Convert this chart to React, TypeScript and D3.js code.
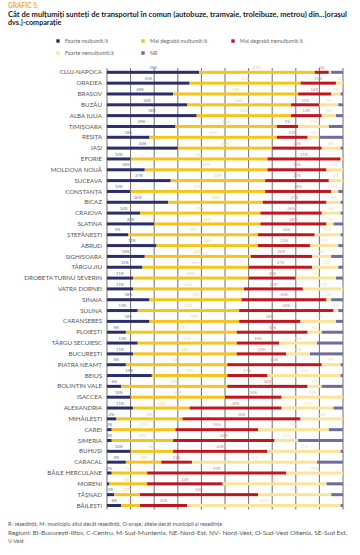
import React from "react";
import * as d3 from "d3";

const cities = ["CLUJ-NAPOCA","ORADEA","BRAȘOV","BUZĂU","ALBA IULIA","TIMIȘOARA","REȘIȚA","IAȘI","EFORIE","MOLDOVA NOUĂ","SUCEAVA","CONSTANȚA","BICAZ","CRAIOVA","SLATINA","ȘTEFĂNEȘTI","ABRUD","SIGHIȘOARA","TÂRGU JIU","DROBETA TURNU SEVERIN","VATRA DORNEI","SINAIA","SULINA","CARANSEBEȘ","PLOIEȘTI","TÂRGU SECUIESC","BUCUREȘTI","PIATRA NEAMȚ","BEIUȘ","BOLINTIN VALE","ISACCEA","ALEXANDRIA","MIHĂILEȘTI","CAREI","SIMERIA","BUHUȘI","CARACAL","BĂILE HERCULANE","MORENI","TĂȘNAD","BĂILEȘTI"];

const foarteMultumit = [39,35,28,34,38,29,18,30,10,16,27,10,26,14,20,9,21,16,15,11,11,18,13,18,8,13,11,8,19,6,10,11,4,2,2,10,8,2,1,3,6];
const maiDegrabaMultumit = [49,47,53,44,40,43,54,40,58,52,40,57,40,51,45,55,43,45,45,49,47,39,43,38,47,42,44,43,32,45,40,24,28,27,26,18,15,15,16,11,8];
const maiDegrabaNemultumit = [6,15,14,12,13,9,13,21,31,25,27,28,27,26,28,24,22,26,27,20,25,36,40,26,30,18,21,40,17,34,24,39,50,35,43,40,13,59,32,50,20];
const foarteNemultumit = [1,3,4,8,6,13,5,8,1,7,6,3,6,8,3,11,12,8,11,17,17,2,2,15,6,16,10,8,31,6,26,22,18,30,10,31,53,24,44,31,65];
const nr = [5,0,1,2,3,6,10,1,0,0,0,2,1,1,4,1,2,5,2,3,0,5,2,3,9,11,14,1,1,9,0,4,0,6,19,1,11,0,7,5,1];

const seriesNames = ["Foarte mulțumit/ă","Mai degrabă mulțumit/ă","Mai degrabă nemulțumit/ă","Foarte nemulțumit/ă","NR"];
const seriesColors = ["#2b2d6c","#f6c41c","#c2161d","#fde39a","#6d6e9f"];
const labelColors = ["#6a6c98","#eed27a","#d97a7e","#efdca0",""];
const gridTicks = [0,10,20,30,40,50,60,70,80,90,100];

const title1 = "Cât de mulțumiți sunteți de transportul în comun (autobuze, tramvaie, troleibuze, metrou) din...[orașul";
const title2 = "dvs.]-comparație";
const foot1 = "R- reședință, M- municipiu altul decât reședință, O-orașe, altele decât municipii și reședințe";
const foot2 = "Regiuni: BI-București-Ilfov, C-Centru, M-Sud-Muntenia, NE-Nord-Est, NV- Nord-Vest, O-Sud-Vest Oltenia, SE-Sud Est,";
const foot3 = "V-Vest";

export default function App() {
  const W = 360, H = 555;
  const x = d3.scaleLinear().domain([0, 100]).range([107, 343]);
  const y = d3.scaleBand<string>().domain(cities).range([66.9, 510.9]);
  const bw = 3;
  const table = cities.map((c, i) => ({
    city: c,
    vals: [foarteMultumit[i], maiDegrabaMultumit[i], maiDegrabaNemultumit[i], foarteNemultumit[i], nr[i]],
  }));
  const font = "Lato, 'Open Sans', sans-serif";
  const legend = [
    { i: 0, lx: 58, ly: 41 },
    { i: 1, lx: 143, ly: 41 },
    { i: 2, lx: 233, ly: 41 },
    { i: 3, lx: 58, ly: 53 },
    { i: 4, lx: 143, ly: 53 },
  ];
  return (
    <svg width={W} height={H} style={{ position: "absolute", left: 0, top: 0, background: "#fff" }} fontFamily={font}>
      <rect width={W} height={H} fill="#fff" />
      <text x={8} y={8} fontSize={6.6} fontWeight={700} fill="#f0ac3a">GRAFIC 5.</text>
      <text x={8} y={16.5} fontSize={7.2} fontWeight={700} fill="#222" textLength={339} lengthAdjust="spacingAndGlyphs">{title1}</text>
      <text x={8} y={24.5} fontSize={7.2} fontWeight={700} fill="#222">{title2}</text>
      {legend.map((l) => (
        <g key={l.i}>
          <rect x={l.lx - 1.7} y={l.ly - 1.7} width={3.4} height={3.4} fill={seriesColors[l.i]} />
          <text x={l.lx + 7} y={l.ly + 1.8} fontSize={5.4} fill="#666">{seriesNames[l.i]}</text>
        </g>
      ))}
      {gridTicks.map((t) => (
        <line key={t} x1={x(t)} x2={x(t)} y1={68} y2={509.5} stroke="#4a4a4a" strokeWidth={0.8} />
      ))}
      {table.map((row) => {
        const cy = (y(row.city) as number) + y.bandwidth() / 2;
        let acc = 0;
        return (
          <g key={row.city}>
            <text x={102} y={cy + 2.1} fontSize={6.2} textAnchor="end" fill="#555">{row.city}</text>
            {row.vals.map((v, si) => {
              const x0 = acc;
              acc += v;
              if (v <= 0) return null;
              return (
                <g key={si}>
                  <rect x={x(x0)} y={cy - bw / 2} width={x(x0 + v) - x(x0)} height={bw} fill={seriesColors[si]} />
                  {si < 4 && v >= 2 ? (
                    <text x={(x(x0) + x(x0 + v)) / 2} y={cy - 3.3} fontSize={3.9} textAnchor="middle" fill={labelColors[si]}>{v}%</text>
                  ) : null}
                </g>
              );
            })}
          </g>
        );
      })}
      <text x={8} y={526} fontSize={5.4} fill="#555">{foot1}</text>
      <text x={8} y={534.5} fontSize={5.4} fill="#555" textLength={339} lengthAdjust="spacingAndGlyphs">{foot2}</text>
      <text x={8} y={543} fontSize={5.4} fill="#555">{foot3}</text>
    </svg>
  );
}
